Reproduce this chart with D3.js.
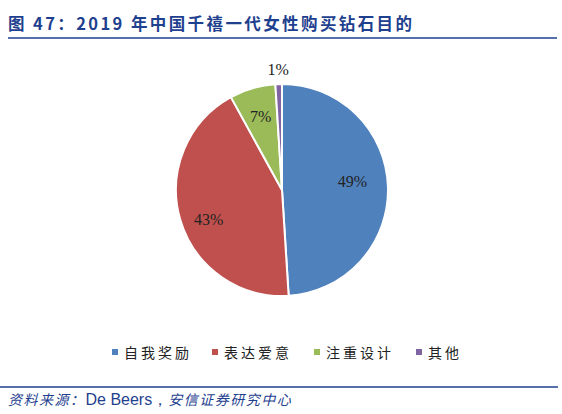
<!DOCTYPE html>
<html><head><meta charset="utf-8">
<script src="https://cdn.jsdelivr.net/npm/d3@7"></script>
<style>body{margin:0;background:#fff}</style></head>
<body><svg id="c" width="562" height="414"></svg>
<script>
const categories=["自我奖励","表达爱意","注重设计","其他"];
const values=[49,43,7,1];
const labels=["49%","43%","7%","1%"];
const colors=["#4f81bd","#c0504d","#9bbb59","#8064a2"];
const svg=d3.select("#c");
const navy="#1f3f8f";
svg.append("text").attr("x",8).attr("y",30).attr("fill",navy).attr("font-family","Noto Sans CJK SC").attr("font-weight","bold").attr("font-size",16.5).attr("letter-spacing",2.4).text("图 47：2019 年中国千禧一代女性购买钻石目的");
svg.append("line").attr("x1",8).attr("x2",557).attr("y1",38).attr("y2",38).attr("stroke",navy).attr("stroke-width",1.5);
const cx=282,cy=190,r=106;
const pie=d3.pie().sort(null).value(d=>d)(values);
const arc=d3.arc().innerRadius(0).outerRadius(r);
const g=svg.append("g").attr("transform",`translate(${cx},${cy})`);
g.selectAll("path").data(pie).join("path").attr("d",arc).attr("fill",(d,i)=>colors[i]).attr("stroke","#fff").attr("stroke-width",2);
const lab=d3.arc().innerRadius(r*0.72).outerRadius(r*0.72);
const labOut=d3.arc().innerRadius(r*1.14).outerRadius(r*1.14);
const off=[[-6,-6],[0,8],[0,0],[0,0]];
g.selectAll("text").data(pie).join("text").attr("transform",(d,i)=>{const c=(i==3?labOut:lab).centroid(d);return `translate(${c[0]+off[i][0]},${c[1]+off[i][1]})`;})
 .attr("text-anchor","middle").attr("dy","0.35em").attr("font-family","Liberation Serif").attr("font-size",16).attr("fill","#222").text((d,i)=>labels[i]);
const lx=[112,212,314,416];
const lg=svg.append("g");
categories.forEach((c,i)=>{
 lg.append("rect").attr("x",lx[i]).attr("y",349).attr("width",6).attr("height",6).attr("fill",colors[i]);
 lg.append("text").attr("x",lx[i]+12).attr("y",358).attr("font-family","Noto Sans CJK SC").attr("font-size",14).attr("letter-spacing",3).attr("fill","#222").text(c);
});
svg.append("line").attr("x1",0).attr("x2",558).attr("y1",387).attr("y2",387).attr("stroke",navy).attr("stroke-width",1.5);
const t=svg.append("text").attr("x",8).attr("y",405).attr("fill",navy).attr("font-size",14);
t.append("tspan").attr("font-family","Noto Sans CJK SC").attr("font-style","italic").attr("letter-spacing",1.5).text("资料来源：");
t.append("tspan").attr("font-family","Liberation Sans").attr("font-size",16).text("De Beers，");
t.append("tspan").attr("font-family","Noto Sans CJK SC").attr("font-style","italic").attr("letter-spacing",1.5).text("安信证券研究中心");
</script></body></html>
